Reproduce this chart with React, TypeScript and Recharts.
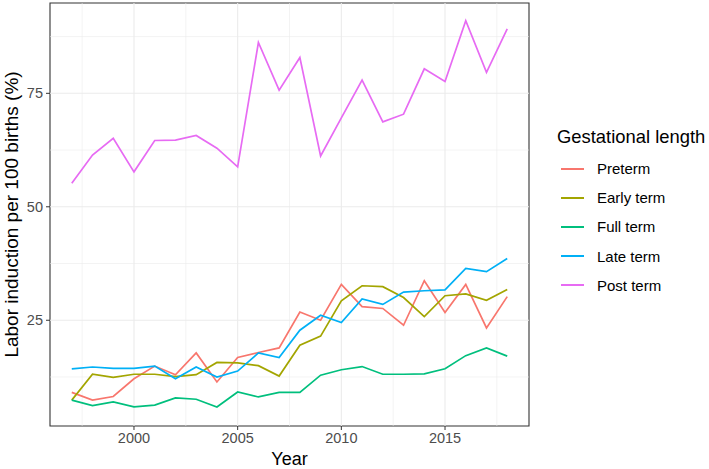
import { LineChart, Line, XAxis, YAxis, ReferenceLine, ReferenceArea } from 'recharts';

const years = [1997, 1998, 1999, 2000, 2001, 2002, 2003, 2004, 2005, 2006, 2007, 2008, 2009, 2010, 2011, 2012, 2013, 2014, 2015, 2016, 2017, 2018];

const preterm = [9.1, 7.4, 8.2, 12.1, 14.9, 13.0, 17.8, 11.4, 16.8, 17.9, 18.9, 26.8, 25.0, 32.9, 28.0, 27.6, 23.9, 33.7, 26.7, 32.9, 23.3, 30.2];
const earlyTerm = [7.4, 13.1, 12.4, 13.1, 13.1, 12.6, 13.0, 15.7, 15.6, 15.0, 12.7, 19.5, 21.5, 29.3, 32.6, 32.4, 30.0, 25.8, 30.4, 30.8, 29.4, 31.8];
const fullTerm = [7.4, 6.2, 7.0, 5.9, 6.3, 7.9, 7.6, 5.9, 9.2, 8.1, 9.1, 9.1, 12.9, 14.1, 14.8, 13.1, 13.1, 13.2, 14.3, 17.2, 18.9, 17.1];
const lateTerm = [14.3, 14.7, 14.4, 14.4, 14.9, 12.1, 14.7, 12.5, 13.8, 17.8, 16.8, 22.8, 26.1, 24.5, 29.7, 28.5, 31.2, 31.5, 31.7, 36.4, 35.7, 38.6];
const postTerm = [55.2, 61.4, 65.1, 57.7, 64.6, 64.7, 65.7, 62.9, 58.8, 86.2, 75.7, 82.9, 61.2, 69.6, 77.9, 68.7, 70.4, 80.4, 77.6, 91.0, 79.6, 89.2];

const seriesNames = ['Preterm', 'Early term', 'Full term', 'Late term', 'Post term'];
const seriesKeys = ['preterm', 'earlyTerm', 'fullTerm', 'lateTerm', 'postTerm'];
const seriesColors = ['#F8766D', '#A3A500', '#00BF7D', '#00B0F6', '#E76BF3'];

const xTicks = [2000, 2005, 2010, 2015];
const xMinor = [1997.5, 2002.5, 2007.5, 2012.5, 2017.5];
const yTicks = [25, 50, 75];
const yMinor = [12.5, 37.5, 62.5, 87.5];

const xDomain = [1995.95, 2019.05];
const yDomain = [1.7, 94.9];

const data = years.map((year, i) => ({
  year,
  preterm: preterm[i],
  earlyTerm: earlyTerm[i],
  fullTerm: fullTerm[i],
  lateTerm: lateTerm[i],
  postTerm: postTerm[i],
}));

const font = '"Liberation Sans", Arial, Helvetica, sans-serif';

// legend drawn as a plain block to the right of the panel
function GuideBox() {
  return (
    <div style={{ position: 'absolute', left: 557, top: 127, width: 150, fontFamily: font, color: '#000' }}>
      <div style={{ fontSize: 18.4, lineHeight: '20px', marginBottom: 7 }}>Gestational length</div>
      {seriesNames.map((name, i) => (
        <div key={name} style={{ display: 'flex', alignItems: 'center', height: 29.2 }}>
          <div style={{ width: 23, height: 2, background: seriesColors[i], marginLeft: 4, marginRight: 13 }} />
          <span style={{ fontSize: 15 }}>{name}</span>
        </div>
      ))}
    </div>
  );
}

export default function App() {
  return (
    <div style={{ position: 'absolute', left: 0, top: 0, width: 709, height: 469, background: '#fff' }}>
      <LineChart width={709} height={469} data={data} margin={{ top: 3, right: 180, bottom: 0, left: 0 }}>
        {xMinor.map((v) => (
          <ReferenceLine key={'xm' + v} x={v} stroke="#EBEBEB" strokeWidth={0.6} />
        ))}
        {yMinor.map((v) => (
          <ReferenceLine key={'ym' + v} y={v} stroke="#EBEBEB" strokeWidth={0.6} />
        ))}
        {xTicks.map((v) => (
          <ReferenceLine key={'x' + v} x={v} stroke="#EBEBEB" strokeWidth={1.1} />
        ))}
        {yTicks.map((v) => (
          <ReferenceLine key={'y' + v} y={v} stroke="#EBEBEB" strokeWidth={1.1} />
        ))}
        <XAxis
          dataKey="year"
          type="number"
          domain={xDomain}
          ticks={xTicks}
          allowDataOverflow
          height={43}
          axisLine={false}
          tickLine={{ stroke: '#333', strokeWidth: 1 }}
          tickSize={4}
          tickMargin={3}
          tick={{ fill: '#4D4D4D', fontSize: 14.5, fontFamily: font }}
          label={{ value: 'Year', position: 'insideBottom', offset: 4, style: { fill: '#000', fontSize: 18, fontFamily: font } }}
        />
        <YAxis
          type="number"
          domain={yDomain}
          ticks={yTicks}
          allowDataOverflow
          width={50}
          axisLine={false}
          tickLine={{ stroke: '#333', strokeWidth: 1 }}
          tickSize={4}
          tickMargin={3}
          tick={{ fill: '#4D4D4D', fontSize: 14.5, fontFamily: font }}
          label={{
            value: 'Labor induction per 100 births (%)',
            angle: -90,
            position: 'insideLeft',
            offset: 11,
            style: { textAnchor: 'middle', fill: '#000', fontSize: 19, fontFamily: font },
          }}
        />
        {seriesKeys.map((k, i) => (
          <Line
            key={k}
            type="linear"
            dataKey={k}
            name={seriesNames[i]}
            stroke={seriesColors[i]}
            strokeWidth={1.7}
            dot={false}
            activeDot={false}
            isAnimationActive={false}
          />
        ))}
        <ReferenceArea x1={xDomain[0]} x2={xDomain[1]} y1={yDomain[0]} y2={yDomain[1]} fill="none" stroke="#333" strokeWidth={1.1} />
      </LineChart>
      <GuideBox />
    </div>
  );
}
